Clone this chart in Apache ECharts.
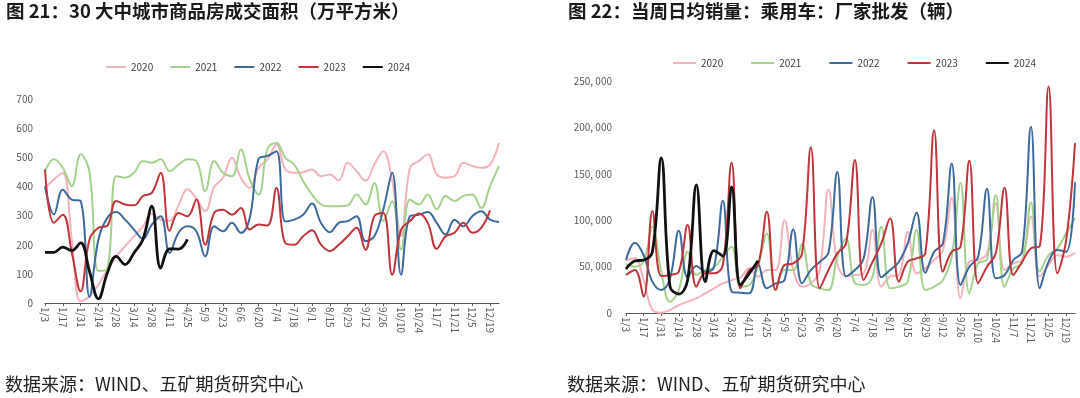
<!DOCTYPE html>
<html>
<head>
<meta charset="utf-8">
<script src="https://cdn.jsdelivr.net/npm/echarts@6/dist/echarts.min.js"></script>
<style>
html,body{margin:0;padding:0;background:#fff}
#main{width:1080px;height:398px}
</style>
</head>
<body>
<div id="main"></div>
<script>
var weeks = ['1/3','1/10','1/17','1/24','1/31','2/7','2/14','2/21','2/28','3/7','3/14','3/21','3/28','4/4','4/11','4/18','4/25','5/2','5/9','5/16','5/23','5/30','6/6','6/13','6/20','6/27','7/4','7/11','7/18','7/25','8/1','8/8','8/15','8/22','8/29','9/5','9/12','9/19','9/26','10/3','10/10','10/17','10/24','10/31','11/7','11/14','11/21','11/28','12/5','12/12','12/19','12/26'];
var years = ['2020','2021','2022','2023','2024'];
var colors = ['#f3b3bc','#a4d18c','#3d6a9c','#c0343c','#111111'];

// 图21 30大中城市商品房成交面积（万平方米）
var area2020 = [395,424,447,220,5,23,63,115,160,195,229,263,305,286,281,335,390,358,315,398,430,498,430,395,464,493,544,458,447,449,458,435,441,420,481,452,420,475,521,420,230,464,487,510,441,430,435,481,470,464,475,550];
var area2021 = [452,493,464,401,510,450,110,118,435,430,447,487,481,493,452,475,493,487,384,487,447,435,527,424,372,530,550,498,475,418,372,338,332,332,335,372,338,412,281,349,183,355,338,372,321,367,350,367,372,326,401,470];
var area2022 = [400,304,389,355,350,21,218,292,312,286,252,220,269,298,172,241,263,246,160,263,246,275,241,292,495,505,521,280,286,303,341,275,243,275,281,298,212,229,321,447,97,298,303,312,275,235,286,263,298,315,286,278];
var area2023 = [458,275,303,175,40,218,258,265,350,338,335,367,378,447,248,309,298,355,200,309,320,303,326,252,269,266,395,205,200,229,250,200,178,200,229,258,183,298,309,97,252,281,307,275,186,229,241,275,241,258,318];
var area2024 = [174,174,192,180,206,108,14,103,160,132,172,218,332,120,186,185,218];

// 图22 当周日均销量：乘用车：厂家批发（辆）
var sales2020 = [57100,58900,35600,3200,400,3200,8600,12200,15800,21200,26600,32000,35600,38400,48100,39200,46300,46300,100000,46300,28400,32000,46300,133000,53500,39900,41000,42700,89400,28400,39200,41000,87600,42700,48100,57100,67900,124000,15800,55300,57100,64300,118000,46300,53500,57100,104000,39200,51700,62500,60700,65000];
var sales2021 = [52800,49900,55300,93000,44500,12200,24800,66100,41000,46300,49200,60700,71500,28400,30200,50600,85800,24800,46300,46300,75000,32000,26600,24800,60700,80000,32000,30200,39200,93000,26600,28400,33800,89400,24800,28400,35600,60700,140000,21200,53500,58000,127000,28400,48100,53500,119000,44500,62500,69700,85800,102000];
var sales2022 = [57100,75800,62500,33800,24800,37400,88700,38400,50600,44500,49900,121000,23000,21900,21200,52800,26600,32000,35600,90100,32000,46300,55000,65000,152000,39200,46300,58900,125000,38400,46300,55300,75000,108000,43500,66100,75000,161000,30200,49900,60700,134000,37400,41000,57100,66100,200800,26600,55300,67900,66100,141500];
var sales2023 = [41000,46300,17600,110000,40000,41000,44500,94800,28400,42700,42700,51700,162000,26600,46300,51700,109000,24800,51700,53500,64300,178500,26600,46300,64300,75000,165000,35600,55000,75000,102000,33800,55300,58900,64300,197000,44500,66100,71500,164000,32000,49900,64300,135000,41000,55300,69700,72000,244000,42700,78700,183000];
var sales2024 = [47400,56000,57100,66100,167000,28400,20500,35600,138000,33800,67200,61400,136000,30200,42700,56400];

var areaData = [area2020, area2021, area2022, area2023, area2024];
var salesData = [sales2020, sales2021, sales2022, sales2023, sales2024];

var myChart = echarts.init(document.getElementById('main'));

var font = '"Noto Sans CJK SC", "Noto Sans", sans-serif';
var gray = '#595959';

function xAxisOf(idx) {
    return {
        type: 'category',
        gridIndex: idx,
        data: weeks,
        boundaryGap: false,
        axisLine: {lineStyle: {color: gray, width: 1}},
        axisTick: {interval: 1, length: 3, lineStyle: {color: gray}},
        axisLabel: {interval: 1, rotate: -90, color: gray, fontSize: 10, margin: 4, fontFamily: font},
        splitLine: {show: false}
    };
}

var series = [];
for (var k = 0; k < years.length; k++) {
    series.push({
        name: years[k], type: 'line', xAxisIndex: 0, yAxisIndex: 0,
        data: areaData[k], smooth: 0.4, symbol: 'none',
        lineStyle: {color: colors[k], width: k == 4 ? 2.8 : 2},
        itemStyle: {color: colors[k]}
    });
    series.push({
        name: years[k], type: 'line', xAxisIndex: 1, yAxisIndex: 1,
        data: salesData[k], smooth: 0.4, symbol: 'none',
        lineStyle: {color: colors[k], width: k == 4 ? 2.8 : 2},
        itemStyle: {color: colors[k]}
    });
}

var option = {
    animation: false,
    textStyle: {fontFamily: font},
    title: [
        {text: '图 21：30 大中城市商品房成交面积（万平方米）', left: 6, top: 2, padding: 0,
            textStyle: {fontSize: 18.5, fontWeight: 'bold', color: '#1a1a1a', fontFamily: font}},
        {text: '图 22：当周日均销量：乘用车：厂家批发（辆）', left: 568, top: 2, padding: 0,
            textStyle: {fontSize: 18.5, fontWeight: 'bold', color: '#1a1a1a', fontFamily: font}},
        {text: '数据来源：WIND、五矿期货研究中心', left: 5, top: 375, padding: 0,
            textStyle: {fontSize: 18, fontWeight: 'normal', color: '#222', fontFamily: font}},
        {text: '数据来源：WIND、五矿期货研究中心', left: 567, top: 375, padding: 0,
            textStyle: {fontSize: 18, fontWeight: 'normal', color: '#222', fontFamily: font}}
    ],
    legend: [
        {data: years, left: 106, top: 62, padding: 0, itemWidth: 20, itemHeight: 2, itemGap: 17,
            icon: 'rect', textStyle: {fontSize: 10, color: '#404040'}},
        {data: years, left: 673, top: 58, padding: 0, itemWidth: 23, itemHeight: 2, itemGap: 28,
            icon: 'rect', textStyle: {fontSize: 10, color: '#404040'}}
    ],
    grid: [
        {left: 45, right: 581, top: 99, bottom: 95},
        {left: 626, right: 5, top: 81, bottom: 85}
    ],
    xAxis: [xAxisOf(0), xAxisOf(1)],
    yAxis: [
        {type: 'value', gridIndex: 0, min: 0, max: 700, interval: 100,
            axisLine: {show: false}, axisTick: {show: false}, splitLine: {show: false},
            axisLabel: {color: gray, fontSize: 10, margin: 12}},
        {type: 'value', gridIndex: 1, min: 0, max: 250000, interval: 50000,
            axisLine: {show: false}, axisTick: {show: false}, splitLine: {show: false},
            axisLabel: {color: gray, fontSize: 10, margin: 14,
                formatter: function (v) { return v == 0 ? '0' : (v / 1000) + ', 000'; }}}
    ],
    series: series
};

myChart.setOption(option);
</script>
</body>
</html>
